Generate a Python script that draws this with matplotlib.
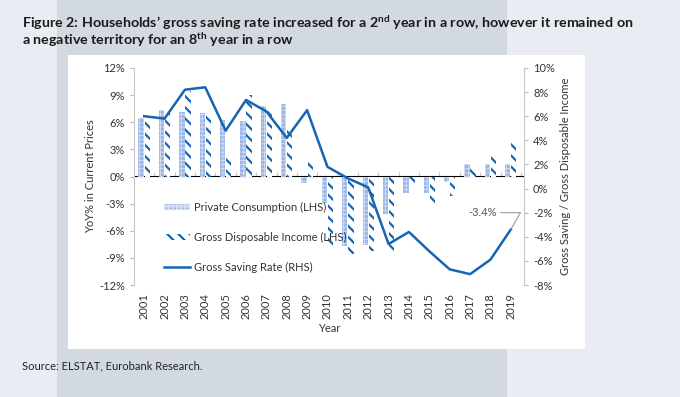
import matplotlib.pyplot as plt
import numpy as np
from matplotlib.patches import Patch, Rectangle
from matplotlib.lines import Line2D

plt.rcParams['font.family'] = ['Lato', 'DejaVu Sans']
plt.rcParams['mathtext.fontset'] = 'custom'
plt.rcParams['mathtext.bf'] = 'Lato:bold'
plt.rcParams['mathtext.rm'] = 'Lato'
plt.rcParams['hatch.linewidth'] = 1.6

years = [str(y) for y in range(2001, 2020)]
# YoY % (LHS)
private_consumption = [6.5, 7.3, 7.1, 7.0, 6.2, 6.1, 7.8, 8.0, -0.7, -2.9, -7.7, -7.6,
                       -4.2, -1.8, -1.8, -0.6, 1.4, 1.4, 1.4]
disposable_income = [6.3, 7.0, 9.5, 6.9, 2.2, 9.0, 7.2, 5.5, 1.7, -7.8, -8.6, -8.2,
                     -8.4, -0.7, -3.1, -2.2, 1.1, 2.6, 3.7]
# gross saving / gross disposable income (RHS)
saving_rate = [6.0, 5.8, 8.2, 8.4, 4.8, 7.35, 6.4, 4.2, 6.5, 1.8, 0.85, 0.1,
               -4.6, -3.6, -5.2, -6.7, -7.1, -5.9, -3.4]

blue = '#1565b5'
pc_col = '#9cb6e6'
pc_dots = '#d3def4'
grey_txt = '#333333'

fig = plt.figure(figsize=(6.8, 3.97), dpi=100)
fig.patch.set_facecolor('#e9edf3')
fig.patches.append(Rectangle((57/680, 0), 450/680, 1, transform=fig.transFigure,
                             facecolor='#d3d9e0', edgecolor='none', zorder=-2))
fig.patches.append(Rectangle((68/680, 1-349/397), 517/680, 294/397, transform=fig.transFigure,
                             facecolor='white', edgecolor='none', zorder=-1))

fig.text(22/680, 1-13/397,
         r'Figure 2: Households’ gross saving rate increased for a 2$^{\mathbf{nd}}$ year in a row, however it remained on'
         '\n' r'a negative territory for an 8$^{\mathbf{th}}$ year in a row',
         fontsize=10.3, fontweight='bold', color='#1a1a1a', va='top', ha='left', linespacing=0.95)
fig.text(22/680, 1-366/397, 'Source: ELSTAT, Eurobank Research.', fontsize=8,
         color='#222222', va='center', ha='left')

ax = fig.add_axes([134/680, 1-285/397, 390/680, 217/397])
ax.patch.set_alpha(0)
x = np.arange(len(years))
w = 0.26
pc_bars = ax.bar(x - 0.15, private_consumption, w, facecolor=pc_col, edgecolor=pc_dots, hatch='++++', lw=0)
ax.bar(x + 0.15, disposable_income, w, facecolor='white', edgecolor=blue, hatch='\\\\\\', lw=0)
for b in pc_bars:
    if hasattr(b, 'set_hatch_linewidth'):
        b.set_hatch_linewidth(0.6)

ax.set_xlim(-0.5, 18.65)
ax.set_ylim(-12, 12)
ax.set_yticks(np.arange(-12, 13, 3))
ax.set_yticklabels([f'{v}%' for v in range(-12, 13, 3)])
ax.set_xticks(x)
ax.set_xticklabels(years, rotation=90)
ax.tick_params(axis='x', length=0, labelsize=8, colors=grey_txt, pad=6)
ax.tick_params(axis='y', length=3, color='#bbbbbb', labelsize=8, labelcolor=grey_txt)
for s in ['top', 'right', 'bottom']:
    ax.spines[s].set_visible(False)
ax.spines['left'].set_color('#c8c8c8')
ax.set_ylabel('YoY% in Current Prices', fontsize=8, color=grey_txt, labelpad=2)
ax.set_xlabel('Year', fontsize=8, color=grey_txt, labelpad=3)

zero = ax.secondary_xaxis(0.5)
zero.set_xticks(np.arange(-0.5, 19, 1))
zero.set_xticklabels([])
zero.tick_params(length=3, width=0.8, color='#c8c8c8')
zero.spines['bottom'].set_color('#c8c8c8')
zero.spines['bottom'].set_linewidth(0.8)

ax2 = ax.twinx()
ax2.plot(x, saving_rate, color=blue, lw=1.8)
ax2.set_ylim(-8, 10)
ax2.set_yticks(np.arange(-8, 11, 2))
ax2.set_yticklabels([f'{v}%' for v in range(-8, 11, 2)])
ax2.tick_params(axis='y', length=3, color='#bbbbbb', labelsize=8, labelcolor=grey_txt)
for s in ['top', 'left', 'bottom']:
    ax2.spines[s].set_visible(False)
ax2.spines['right'].set_color('#c8c8c8')
ax2.set_ylabel('Gross Saving / Gross Disposable Income', fontsize=8, color=grey_txt, labelpad=4)

ax2.annotate(f'{saving_rate[-1]}%', xy=(x[-1], saving_rate[-1]), xytext=(16.6, -2.0),
             fontsize=8, color='#555555', va='center', ha='center',
             arrowprops=dict(arrowstyle='-', color='#999999', lw=0.8,
                             connectionstyle='angle,angleA=0,angleB=60,rad=0', shrinkA=1, shrinkB=0))

pc_handle = Patch(facecolor=pc_col, edgecolor=pc_dots, hatch='++++', lw=0)
if hasattr(pc_handle, 'set_hatch_linewidth'):
    pc_handle.set_hatch_linewidth(0.6)
handles = [pc_handle,
           Patch(facecolor='white', edgecolor=blue, hatch='\\\\\\', lw=0),
           Line2D([], [], color=blue, lw=1.8)]
labels = ['Private Consumption (LHS)', 'Gross Disposable Income (LHS)', 'Gross Saving Rate (RHS)']
ax2.legend(handles, labels, loc='upper left', bbox_to_anchor=(0.05, 0.43), frameon=False,
           fontsize=8, labelspacing=1.7, handlelength=2.4, handleheight=0.5, handletextpad=0.3,
           labelcolor=grey_txt)

fig.savefig('out.png', dpi=100, facecolor=fig.get_facecolor())
